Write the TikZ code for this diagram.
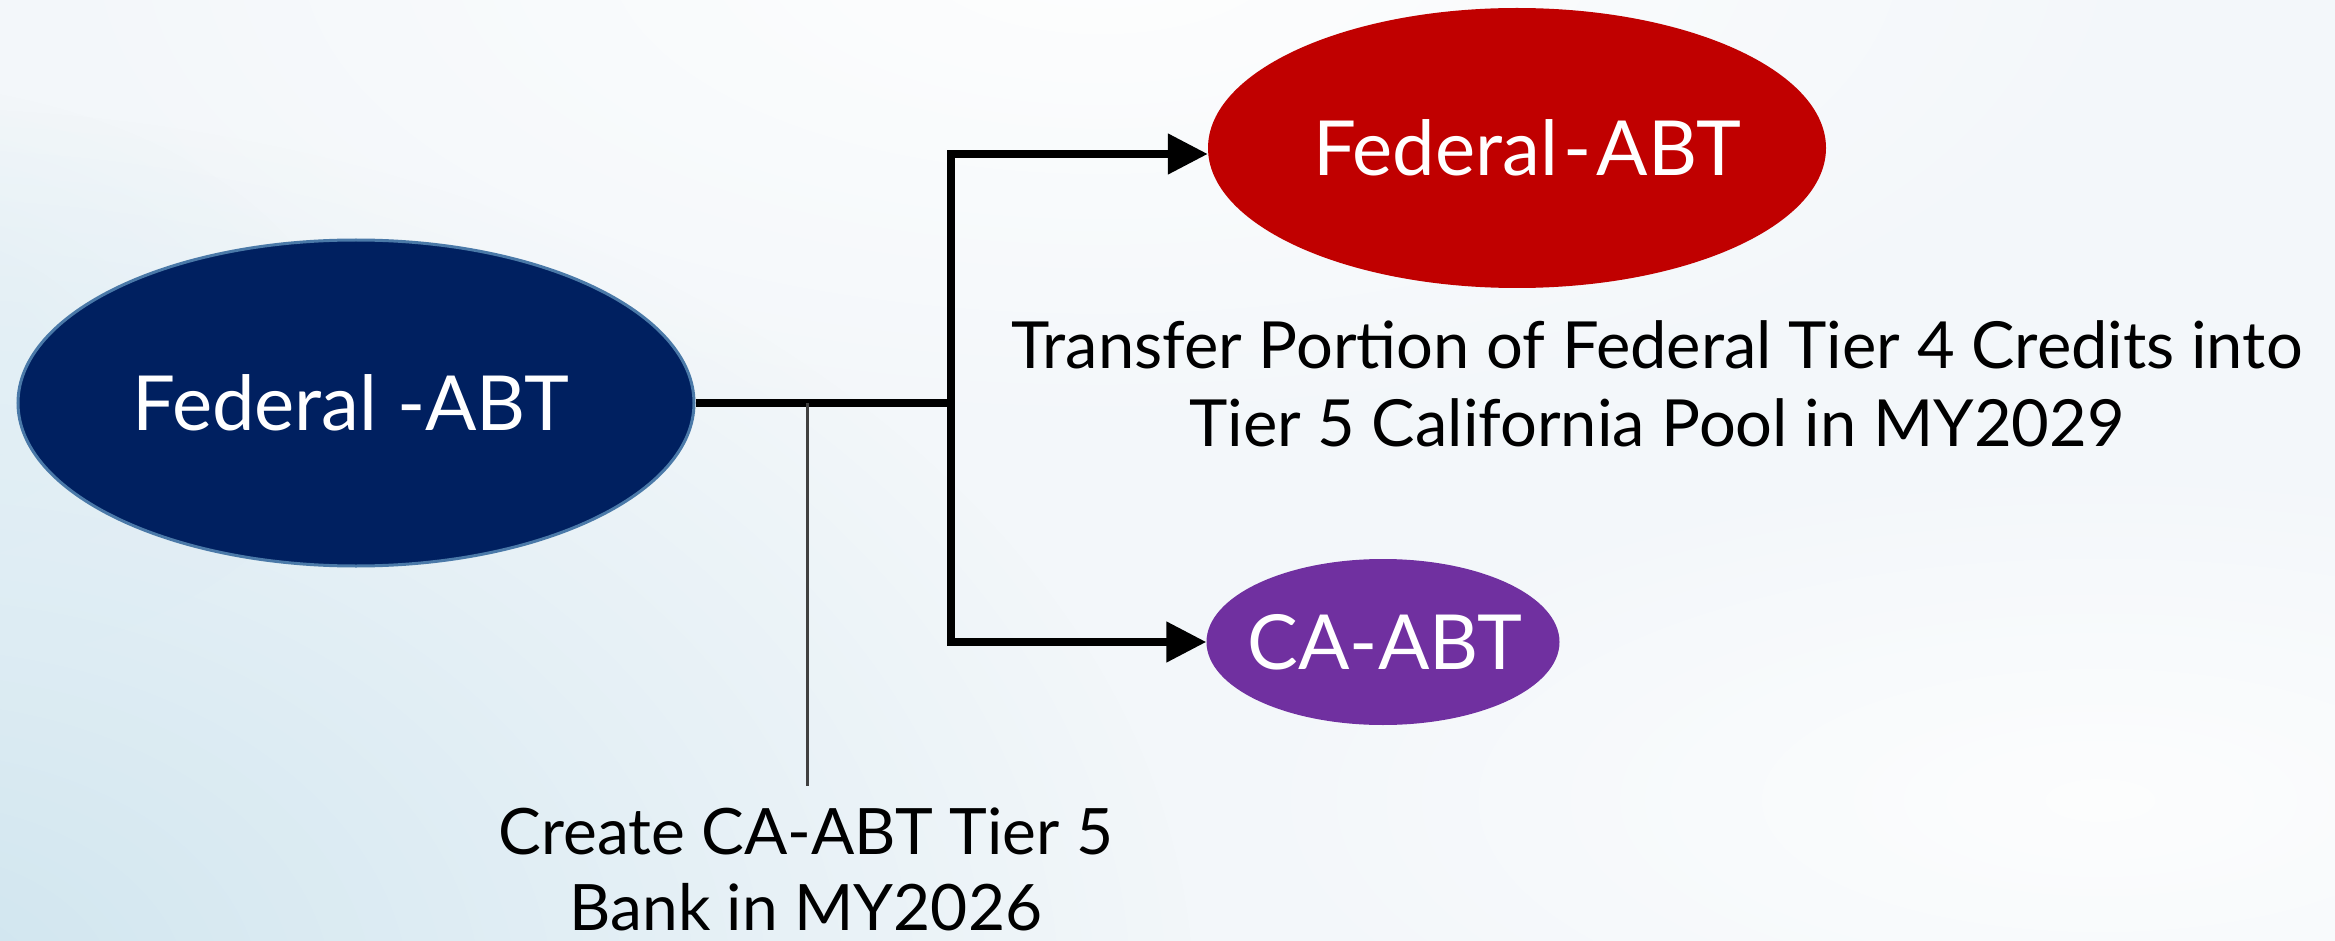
\documentclass[tikz,border=0pt]{standalone}
\usepackage{fontspec}
\setmainfont{Lato}
\usetikzlibrary{shapes.geometric,arrows.meta,fadings}
\definecolor{navy}{HTML}{002060}
\definecolor{navyedge}{HTML}{4A79A8}
\definecolor{fedred}{HTML}{C00000}
\definecolor{capurple}{HTML}{7030A0}
\definecolor{bgA}{HTML}{F3F7FA}
\definecolor{bgB}{HTML}{CFE5EF}
\tikzfading[name=softout, inner color=transparent!0, outer color=transparent!100]
\begin{document}
\begin{tikzpicture}[x=1pt,y=-1pt,
  oval/.style={ellipse, inner sep=0pt},
  lbl/.style={text=white, font=\fontsize{76}{80}\selectfont, inner sep=0pt},
  flow/.style={line width=8pt},
  flowarrow/.style={line width=8pt, -{Triangle[length=40pt,width=39pt]}},
  note/.style={font=\fontsize{65}{78}\selectfont, align=center, inner sep=0pt},
  note2/.style={font=\fontsize{64}{76}\selectfont, align=center, inner sep=0pt},
]
\useasboundingbox (0,0) rectangle (2335,941);
\fill[bgA] (0,0) rectangle (2335,941);
\fill[bgB, path fading=softout, fit fading=true] (-100,1000) ellipse [x radius=1300pt, y radius=900pt];
\fill[bgB!70, path fading=softout, fit fading=true, opacity=0.7] (-150,380) ellipse [x radius=500pt, y radius=300pt];
\fill[white, path fading=softout, fit fading=true, opacity=0.9] (1100,-50) ellipse [x radius=1100pt, y radius=500pt];
\fill[white, path fading=softout, fit fading=true, opacity=0.8] (2100,800) ellipse [x radius=900pt, y radius=350pt];

\node[oval, fill=navy, draw=navyedge, line width=3pt, minimum width=676pt, minimum height=326pt,
  label={[lbl, xshift=-5pt]center:Federal -ABT}] (fed) at (356,403) {};
\node[oval, fill=fedred, minimum width=618pt, minimum height=280pt,
  label={[lbl, xshift=10pt]center:Federal\kern5pt-\kern5pt ABT}] (fedca) at (1517,148) {};
\node[oval, fill=capurple, minimum width=353pt, minimum height=166pt,
  label={[lbl, xshift=2pt]center:CA-ABT}] (ca) at (1383,642) {};

\coordinate (j) at (951,403);
\coordinate (jt) at (951,154);
\coordinate (jb) at (951,642);
\coordinate (t) at (807,403);
\coordinate (tb) at (807,786);

\draw[flow] (fed.east) -- (j);
\draw[flow, line cap=rect] (jt) -- (jb);
\draw[flowarrow] (jt) -- (jt -| fedca.west);
\draw[flowarrow] (jb) -- (jb -| ca.west);
\draw[line width=3pt, black!75] (t) -- (tb);

\node[note, anchor=north] (transfer) at (1657,320) {Transfer Portion of Federal Tier 4 Credits into\\Tier 5 California Pool in MY2029};
\node[note2, anchor=north] (create) at (806,808) {Create CA-ABT Tier 5\\Bank in MY2026};
\end{tikzpicture}
\end{document}
